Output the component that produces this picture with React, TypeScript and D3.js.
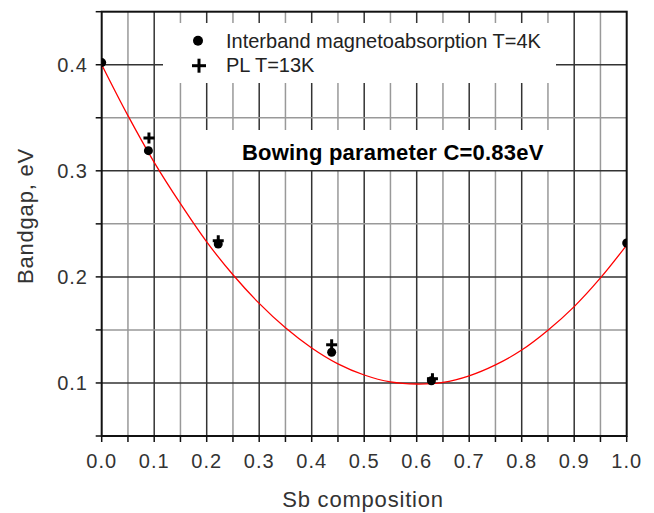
import React from "react";
import * as d3 from "d3";

// Interband magnetoabsorption T=4K (circles)
const absX = [0.0, 0.089, 0.222, 0.438, 0.628, 1.0];
const absY = [0.402, 0.319, 0.231, 0.129, 0.102, 0.232];
// PL T=13K (plus)
const plX = [0.09, 0.222, 0.438, 0.63];
const plY = [0.331, 0.234, 0.136, 0.104];
// Bowing fit curve
const fitX = [0, 0.05, 0.1, 0.15, 0.2, 0.25, 0.3, 0.35, 0.4, 0.45, 0.5, 0.55, 0.6, 0.65, 0.7, 0.75, 0.8, 0.85, 0.9, 0.95, 1.0];
const fitY = [0.4, 0.352, 0.308, 0.269, 0.233, 0.202, 0.175, 0.152, 0.133, 0.118, 0.1075, 0.101, 0.099, 0.1005, 0.1067, 0.117, 0.131, 0.1497, 0.172, 0.199, 0.23];

const xTicks = [0, 0.1, 0.2, 0.3, 0.4, 0.5, 0.6, 0.7, 0.8, 0.9, 1.0];
const yTicks = [0.1, 0.2, 0.3, 0.4];
const xGrid = [0.05, 0.1, 0.15, 0.2, 0.25, 0.3, 0.35, 0.4, 0.45, 0.5, 0.55, 0.6, 0.65, 0.7, 0.75, 0.8, 0.85, 0.9, 0.95];
const yGrid = [0.1, 0.15, 0.2, 0.25, 0.3, 0.35, 0.4];

const legendLabels = ["Interband magnetoabsorption T=4K", "PL T=13K"];
const annotation = "Bowing parameter C=0.83eV";

const W = 654, H = 513;
const L = 101.7, R = 626.7, T = 11.7, B = 436;

export default function App() {
  const x = d3.scaleLinear().domain([0, 1]).range([L, R]);
  const y = d3.scaleLinear().domain([0.05, 0.45]).range([B, T]);
  const line = d3.line<number>().x((_, i) => x(fitX[i])).y((d) => y(d)).curve(d3.curveCatmullRom);
  const font = "'Liberation Sans', Arial, sans-serif";
  const isMajor = (v: number) => Math.abs(Math.round(v * 10) - v * 10) < 1e-6;
  const plus = (cx: number, cy: number, s: number, k: string) => (
    <g key={k} stroke="#000" strokeWidth={3}>
      <line x1={cx - s} x2={cx + s} y1={cy} y2={cy} />
      <line x1={cx} x2={cx} y1={cy - s} y2={cy + s} />
    </g>
  );
  return (
    <svg width={W} height={H} style={{ position: "absolute", left: 0, top: 0, background: "#fff" }}>
      <defs>
        <clipPath id="plotclip">
          <rect x={L} y={T} width={R - L} height={B - T} />
        </clipPath>
      </defs>
      {/* grid */}
      {xGrid.map((v) => (
        <line key={"gx" + v} x1={x(v)} x2={x(v)} y1={T} y2={B} stroke={isMajor(v) ? "#333" : "#999"} strokeWidth={1.5} />
      ))}
      {yGrid.map((v) => (
        <line key={"gy" + v} y1={y(v)} y2={y(v)} x1={L} x2={R} stroke={isMajor(v) ? "#333" : "#999"} strokeWidth={1.5} />
      ))}
      {/* boxes covering grid */}
      <rect x={163} y={23} width={393} height={60} fill="#fff" />
      <rect x={193} y={130} width={370} height={40} fill="#fff" />
      {/* frame */}
      <rect x={L} y={T} width={R - L} height={B - T} fill="none" stroke="#111" strokeWidth={2} />
      {/* ticks */}
      {[0, ...xGrid, 1].map((v) => (
        <line key={"tx" + v} x1={x(v)} x2={x(v)} y1={B} y2={B + 6} stroke="#111" strokeWidth={1.5} />
      ))}
      {[0.05, ...yGrid, 0.45].map((v) => (
        <line key={"ty" + v} y1={y(v)} y2={y(v)} x1={L - 6} x2={L} stroke="#111" strokeWidth={1.5} />
      ))}
      {xTicks.map((v) => (
        <text key={"lx" + v} x={x(v)} y={468} textAnchor="middle" fontFamily={font} fontSize={20} letterSpacing={1} fill="#333">
          {v.toFixed(1)}
        </text>
      ))}
      {yTicks.map((v) => (
        <text key={"ly" + v} x={88} y={y(v) + 7.5} textAnchor="end" fontFamily={font} fontSize={20} letterSpacing={1} fill="#333">
          {v.toFixed(1)}
        </text>
      ))}
      <text x={363} y={507} textAnchor="middle" fontFamily={font} fontSize={22} letterSpacing={0.8} fill="#333">
        Sb composition
      </text>
      <text transform={`translate(33,216) rotate(-90)`} textAnchor="middle" fontFamily={font} fontSize={22} letterSpacing={0.8} fill="#333">
        Bandgap, eV
      </text>
      {/* curve */}
      <path d={line(fitY) || ""} fill="none" stroke="#ff0000" strokeWidth={1.3} clipPath="url(#plotclip)" />
      {/* markers */}
      <g clipPath="url(#plotclip)">
        {absX.map((v, i) => (
          <circle key={"c" + i} cx={x(v)} cy={y(absY[i])} r={4.5} fill="#000" />
        ))}
        {plX.map((v, i) => plus(x(v), y(plY[i]), 5.5, "p" + i))}
      </g>
      {/* legend */}
      <circle cx={198} cy={40.7} r={5} fill="#000" />
      {plus(199, 65.7, 7, "lp")}
      <text x={226} y={48} fontFamily={font} fontSize={20} fill="#222">{legendLabels[0]}</text>
      <text x={226} y={72} fontFamily={font} fontSize={20} fill="#222">{legendLabels[1]}</text>
      <text x={242} y={160} fontFamily={font} fontSize={22} fontWeight="bold" letterSpacing={0.2} fill="#000">
        {annotation}
      </text>
    </svg>
  );
}
